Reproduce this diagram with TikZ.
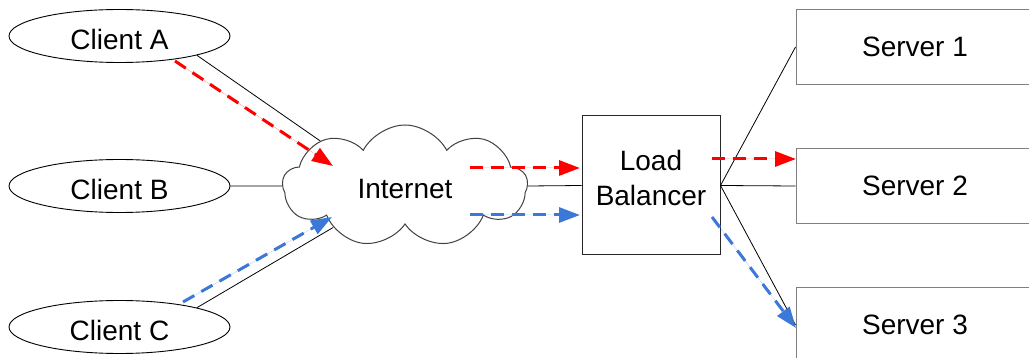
\documentclass[tikz,border=0pt]{standalone}
\usepackage{fontspec}
\setmainfont{Liberation Sans}
\usetikzlibrary{shapes.geometric,shapes.symbols,arrows.meta}
\definecolor{flowred}{HTML}{FF0000}
\definecolor{flowblue}{HTML}{3C78D8}
\definecolor{boxgray}{HTML}{808080}
\tikzset{
  client/.style={ellipse,draw=black,line width=0.9pt,minimum width=221pt,minimum height=53pt,inner sep=0pt},
  server/.style={rectangle,draw=boxgray,line width=1pt,minimum width=238pt,minimum height=75pt,inner sep=0pt},
  balancer/.style={rectangle,draw=black!85,line width=1pt,minimum width=138pt,minimum height=139pt,inner sep=0pt},
  net/.style={cloud,draw=black!75,line width=1pt,cloud puffs=9,cloud puff arc=125,aspect=2,minimum width=245pt,minimum height=122pt,inner sep=0pt},
  lbl/.style={inner sep=0pt,align=center},
  link/.style={draw=black,line width=0.8pt},
  flow/.style={line width=3pt,dash pattern=on 13pt off 8pt,-{Triangle[length=21pt,width=15pt]}},
  redflow/.style={flow,draw=flowred,fill=flowred},
  blueflow/.style={flow,draw=flowblue,fill=flowblue},
}
\begin{document}
\begin{tikzpicture}[x=1pt,y=-1pt,font=\fontsize{28}{35}\selectfont]
\useasboundingbox (0,0) rectangle (1029,358);

% clients
\node[client] (ca) at (119.5,36) {};
\node[lbl] (cat) at (119.5,39) {Client A};
\node[client] (cb) at (119.5,186) {};
\node[lbl] (cbt) at (119.5,189) {Client B};
\node[client] (cc) at (119.5,327) {};
\node[lbl] (cct) at (119.5,330) {Client C};

% internet cloud
\node[net] (inet) at (405,186) {};
\node[lbl] (inett) at (405,189) {Internet};

% load balancer
\node[balancer] (lb) at (651,185.5) {};
\node[lbl] (lbt) at (651,178) {Load\\Balancer};

% servers
\node[server] (s1) at (915,47) {Server 1};
\node[server] (s2) at (915,186) {Server 2};
\node[server] (s3) at (915,325) {Server 3};

% plain links
\draw[link] (ca.-14) -- (inet.152);
\draw[link] (cb.east) -- (inet.west);
\draw[link] (cc.14) -- (inet.210);
\draw[link] (inet.east) -- (lb.west);
\draw[link] (lb.east) -- (s1.west);
\draw[link] (lb.east) -- (s2.west);
\draw[link] (lb.east) -- (s3.west);

% request flows
\coordinate (ra0) at (175,61);
\coordinate (ra1) at (333,166);
\coordinate (rb0) at (470,168);
\coordinate (rb1) at (580,168);
\coordinate (rc0) at (712,159);
\coordinate (rc1) at (796,159);
\coordinate (ba0) at (183,302);
\coordinate (ba1) at (332,217);
\coordinate (bb0) at (470,215);
\coordinate (bb1) at (580,215);
\coordinate (bc0) at (712,217);
\coordinate (bc1) at (796,328);

\draw[redflow] (ra0) -- (ra1);
\draw[redflow] (rb0) -- (rb1);
\draw[redflow] (rc0) -- (rc1);
\draw[blueflow] (ba0) -- (ba1);
\draw[blueflow] (bb0) -- (bb1);
\draw[blueflow] (bc0) -- (bc1);
\end{tikzpicture}
\end{document}
